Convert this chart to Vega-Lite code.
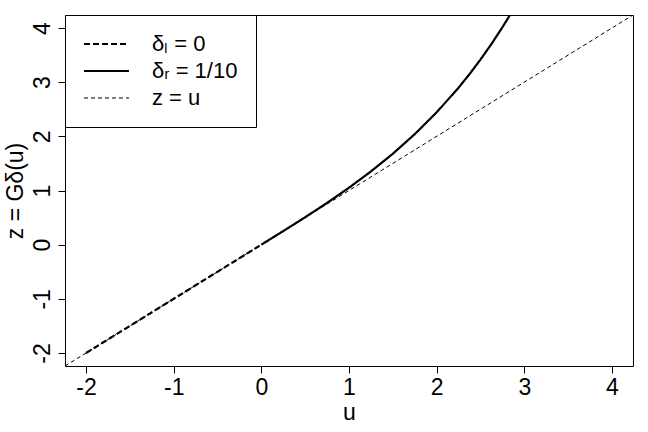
{
  "$schema": "https://vega.github.io/schema/vega-lite/v6.json",
  "autosize": {"type": "none"},
  "width": 568,
  "height": 351,
  "padding": {"left": 65, "top": 15, "right": 15, "bottom": 66},
  "background": "white",
  "config": {
    "font": "Liberation Sans",
    "view": {"stroke": "black", "strokeWidth": 1},
    "axis": {
      "domain": false,
      "grid": false,
      "tickColor": "black",
      "tickSize": 7,
      "labelFont": "Liberation Sans",
      "labelFontSize": 23,
      "labelColor": "black",
      "titleFont": "Liberation Sans",
      "titleFontSize": 23,
      "titleFontWeight": "normal",
      "titleColor": "black"
    },
    "legend": {
      "labelFont": "Liberation Sans",
      "labelFontSize": 22,
      "labelColor": "black"
    }
  },
  "datasets": {
    "curves": [
      {"u": -2.0, "z": -2.0, "series": "δₗ = 0"},
      {"u": 0.0, "z": 0.0, "series": "δₗ = 0"},
      {"u": 0.0, "z": 0.0, "series": "δᵣ = 1/10"},
      {"u": 0.25, "z": 0.2508, "series": "δᵣ = 1/10"},
      {"u": 0.5, "z": 0.5063, "series": "δᵣ = 1/10"},
      {"u": 0.75, "z": 0.7714, "series": "δᵣ = 1/10"},
      {"u": 1.0, "z": 1.0513, "series": "δᵣ = 1/10"},
      {"u": 1.25, "z": 1.3516, "series": "δᵣ = 1/10"},
      {"u": 1.5, "z": 1.6786, "series": "δᵣ = 1/10"},
      {"u": 1.75, "z": 2.0396, "series": "δᵣ = 1/10"},
      {"u": 2.0, "z": 2.4428, "series": "δᵣ = 1/10"},
      {"u": 2.25, "z": 2.8981, "series": "δᵣ = 1/10"},
      {"u": 2.375, "z": 3.1489, "series": "δᵣ = 1/10"},
      {"u": 2.5, "z": 3.4171, "series": "δᵣ = 1/10"},
      {"u": 2.625, "z": 3.7047, "series": "δᵣ = 1/10"},
      {"u": 2.75, "z": 4.0137, "series": "δᵣ = 1/10"},
      {"u": 2.8, "z": 4.1438, "series": "δᵣ = 1/10"},
      {"u": 2.85, "z": 4.2778, "series": "δᵣ = 1/10"},
      {"u": 2.9, "z": 4.4159, "series": "δᵣ = 1/10"}
    ],
    "identity": [
      {"u": -2.24, "z": -2.24, "series": "z = u"},
      {"u": 4.24, "z": 4.24, "series": "z = u"}
    ]
  },
  "encoding": {
    "x": {
      "field": "u",
      "type": "quantitative",
      "scale": {"domain": [-2.24, 4.24], "nice": false, "zero": false},
      "axis": {
        "title": "u",
        "values": [-2, -1, 0, 1, 2, 3, 4],
        "labelExpr": "toString(datum.value)",
        "labelPadding": 3,
        "titlePadding": 2
      }
    },
    "y": {
      "field": "z",
      "type": "quantitative",
      "scale": {"domain": [-2.24, 4.24], "nice": false, "zero": false},
      "axis": {
        "title": "z = Gδ(u)",
        "values": [-2, -1, 0, 1, 2, 3, 4],
        "labelExpr": "toString(datum.value)",
        "labelAngle": -90,
        "labelAlign": "center",
        "labelBaseline": "bottom",
        "labelPadding": 4,
        "titlePadding": 4
      }
    }
  },
  "layer": [
    {
      "mark": {"type": "rule", "stroke": "black", "strokeWidth": 1},
      "encoding": {"x": {"datum": 0, "type": "quantitative"}, "y": null}
    },
    {
      "mark": {"type": "rule", "stroke": "black", "strokeWidth": 1},
      "encoding": {"y": {"datum": 0, "type": "quantitative"}, "x": null}
    },
    {
      "data": {"name": "identity"},
      "mark": {"type": "line", "stroke": "black", "strokeWidth": 1, "clip": true},
      "encoding": {
        "strokeDash": {"field": "series", "type": "nominal"}
      }
    },
    {
      "data": {"name": "curves"},
      "mark": {"type": "line", "stroke": "black", "strokeWidth": 2.2, "clip": true},
      "encoding": {
        "strokeDash": {
          "field": "series",
          "type": "nominal",
          "scale": {
            "domain": ["δₗ = 0", "δᵣ = 1/10", "z = u"],
            "range": [[6, 3], [1, 0], [4, 3]]
          },
          "legend": {
            "title": null,
            "orient": "top-left",
            "offset": 0,
            "padding": 18,
            "fillColor": "white",
            "strokeColor": "black",
            "symbolType": "M-1,0H3.5",
            "symbolSize": 400,
            "symbolStrokeColor": "black",
            "symbolFillColor": "transparent",
            "labelOffset": 47,
            "rowPadding": 5,
            "labelLimit": 300,
            "encode": {
              "symbols": {
                "update": {
                  "strokeWidth": {"signal": "datum.label == 'z = u' ? 1 : 2.2"}
                }
              }
            }
          }
        }
      }
    }
  ]
}
